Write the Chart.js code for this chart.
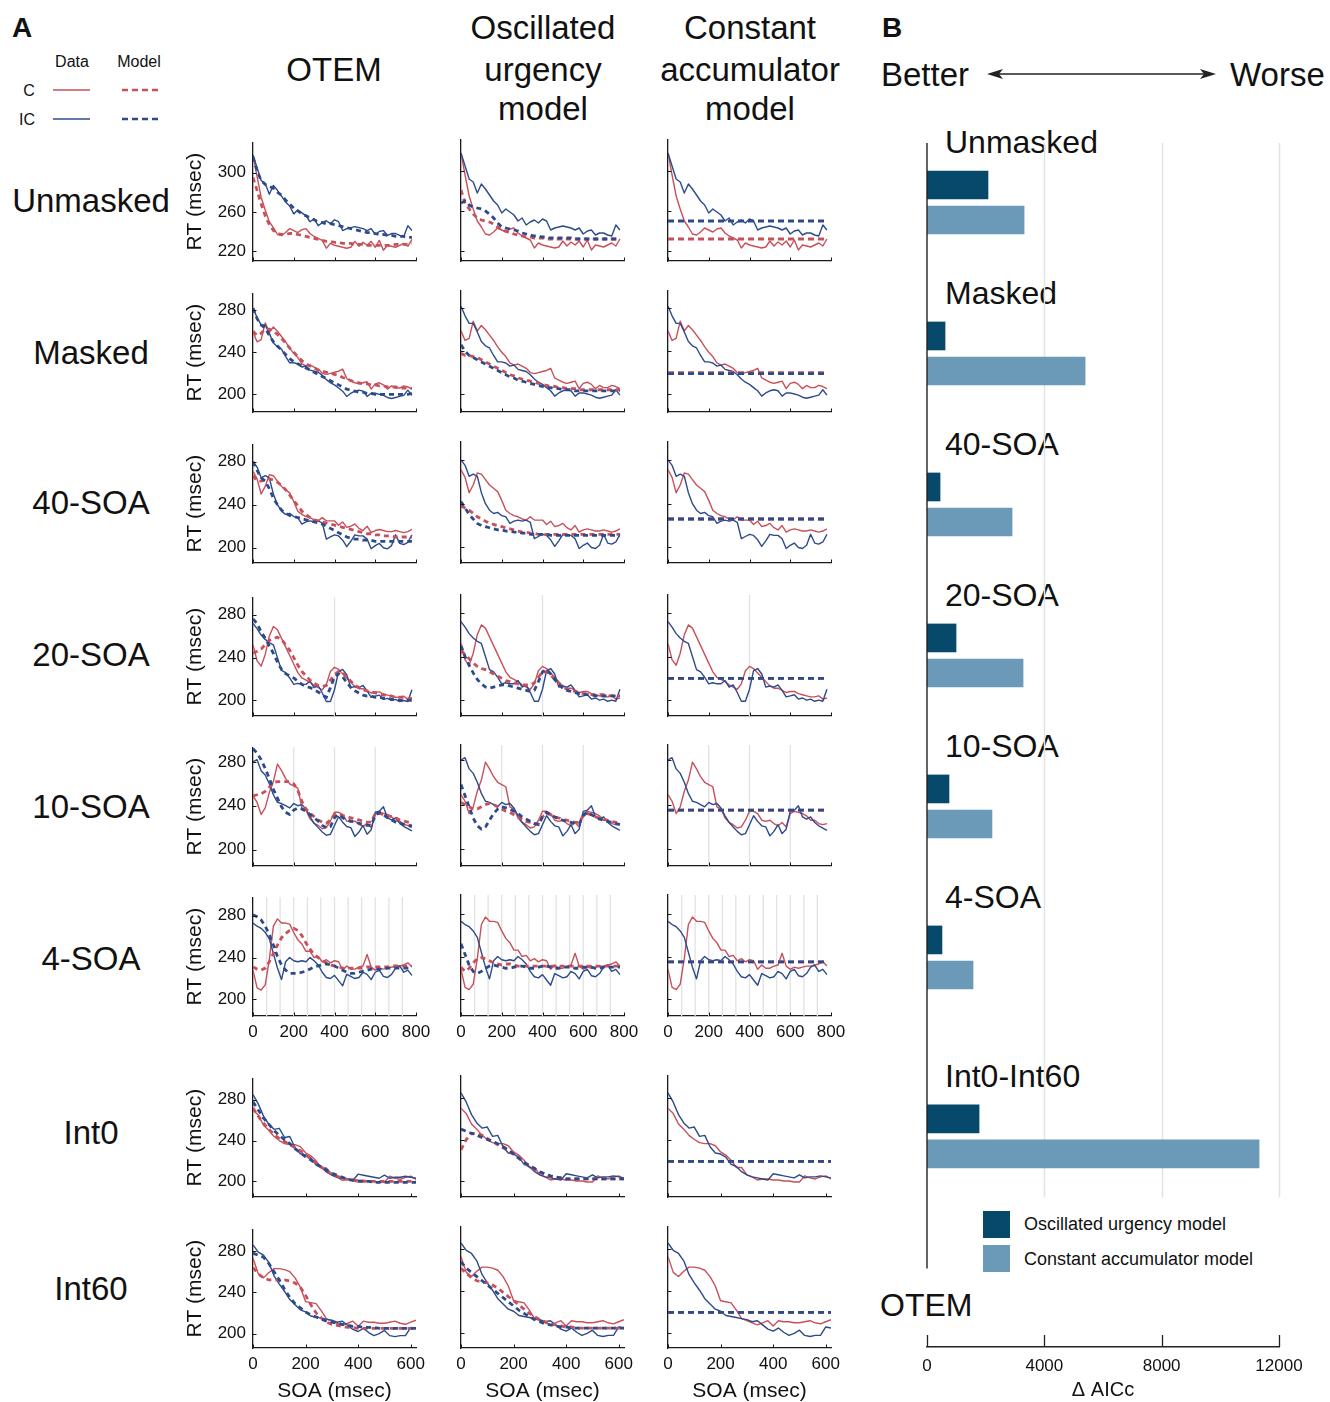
<!DOCTYPE html>
<html>
<head>
<meta charset="utf-8">
<title>RT by SOA and model comparison</title>
<script src="https://cdn.jsdelivr.net/npm/chart.js@4.4.1/dist/chart.umd.min.js"></script>
<style>
  html,body{margin:0;padding:0;background:#fff}
  body{position:relative;width:1330px;height:1402px;overflow:hidden;font-family:"Liberation Sans",Arial,Helvetica,sans-serif;color:#111}
  canvas{position:absolute}
  .c{position:absolute;white-space:nowrap;transform:translate(-50%,-50%);line-height:1}
  .l{position:absolute;white-space:nowrap;transform:translateY(-50%);line-height:1}
  svg{position:absolute;overflow:visible}
  .sw{position:absolute;width:27px;height:27px}
</style>
</head>
<body>
<div class="c" style="left:22px;top:28px;font-size:28px;font-weight:bold">A</div>
<div class="c" style="left:892px;top:28px;font-size:28px;font-weight:bold">B</div>

<!-- line key for panel A -->
<div class="c" style="left:72px;top:62px;font-size:16px">Data</div>
<div class="c" style="left:139px;top:62px;font-size:16px">Model</div>
<div class="c" style="left:29px;top:91px;font-size:16px">C</div>
<div class="c" style="left:27px;top:120px;font-size:16px">IC</div>
<svg style="left:0;top:0" width="170" height="140">
  <line x1="53" y1="90" x2="90" y2="90" stroke="#c8505b" stroke-width="1.4"/>
  <line x1="53" y1="119" x2="90" y2="119" stroke="#2d4b8b" stroke-width="1.4"/>
  <line x1="122" y1="90" x2="158" y2="90" stroke="#c8505b" stroke-width="2.5" stroke-dasharray="6 4"/>
  <line x1="122" y1="119" x2="158" y2="119" stroke="#2d4b8b" stroke-width="2.5" stroke-dasharray="6 4"/>
</svg>

<!-- column headers -->
<div class="c" style="left:334px;top:69px;font-size:33px">OTEM</div>
<div class="c" style="left:543px;top:27px;font-size:33px">Oscillated</div>
<div class="c" style="left:543px;top:69px;font-size:33px">urgency</div>
<div class="c" style="left:543px;top:108px;font-size:33px">model</div>
<div class="c" style="left:750px;top:27px;font-size:33px">Constant</div>
<div class="c" style="left:750px;top:69px;font-size:33px">accumulator</div>
<div class="c" style="left:750px;top:108px;font-size:33px">model</div>

<!-- row headers -->
<div id="rowLabels"></div>

<!-- panel B header -->
<div class="l" style="left:881px;top:74px;font-size:33px">Better</div>
<div class="l" style="left:1230px;top:74px;font-size:33px">Worse</div>
<svg style="left:0;top:0" width="1330" height="100">
  <line x1="996" y1="74" x2="1207" y2="74" stroke="#222" stroke-width="1.5"/>
  <polygon points="987,74 1003,69 999,74 1003,79" fill="#222"/>
  <polygon points="1216,74 1200,69 1204,74 1200,79" fill="#222"/>
</svg>
<div id="groupLabels"></div>
<div class="sw" style="left:983px;top:1211px;background:#06496b"></div>
<div class="sw" style="left:983px;top:1245px;background:#6b9ab9"></div>
<div class="l" style="left:1024px;top:1224px;font-size:18px">Oscillated urgency model</div>
<div class="l" style="left:1024px;top:1259px;font-size:18px">Constant accumulator model</div>
<div class="l" style="left:880px;top:1305px;font-size:32px">OTEM</div>

<script>
// ---------- data ----------
const conditions = ['Unmasked', 'Masked', '40-SOA', '20-SOA', '10-SOA', '4-SOA', 'Int0', 'Int60'];

const soaLong = [0,20,40,60,80,100,120,140,160,180,200,220,240,260,280,300,320,340,360,380,
                 400,420,440,460,480,500,520,540,560,580,600,620,640,660,680,700,720,740,760,780];
const soaShort = [0,20,40,60,80,100,120,140,160,180,200,220,240,260,280,300,
                  320,340,360,380,400,420,440,460,480,500,520,540,560,580,600,620];

const rtTicksUnmasked = [220, 260, 300];
const rtTicks = [200, 240, 280];
const soaTicksLong = [0, 200, 400, 600, 800];
const soaTicksShort = [0, 200, 400, 600];

// stimulus onset markers (msec)
const onsets20 = [400];
const onsets10 = [200, 400, 600];
const onsets4 = [67, 133, 200, 267, 333, 400, 467, 533, 600, 667, 733];

// Unmasked
const unmaskedC  = [318,296,275,262,250,244,237,236,239,243,241,239,242,243,238,235,233,231,223,228,226,225,224,223,224,230,225,229,226,230,224,231,221,226,225,224,226,228,225,232];
const unmaskedIC = [318,305,292,289,278,287,282,276,270,266,258,262,259,256,250,253,246,249,251,248,252,250,241,243,244,245,244,243,241,243,237,240,241,236,238,238,236,235,246,241];
const unmaskedOtemC  = [295,282,268,256,247,241,238,237,237,238,238,237,236,235,234,233,232,231,230,230,229,229,228,228,228,227,227,227,226,226,226,226,226,226,226,227,227,227,227,228];
const unmaskedOtemIC = [316,302,292,288,286,284,280,277,272,268,264,261,258,256,254,252,250,249,248,248,247,246,245,244,243,242,241,240,239,239,238,237,237,236,236,235,235,235,234,234];
const unmaskedOuC  = [281,268,262,257,253,251,250,249,247,244,241,240,238,237,236,235,234,234,233,233,233,232,232,232,232,232,232,232,232,232,232,232,232,232,232,232,232,232,232,232];
const unmaskedOuIC = [268,270,266,264,263,262,260,257,253,248,244,243,242,241,240,238,237,236,235,235,234,234,233,233,233,233,233,233,232,232,232,232,232,232,232,232,232,232,232,232];

// Masked
const maskedC  = [259,250,252,268,259,264,260,255,250,244,239,235,229,227,228,226,224,220,219,220,221,222,224,215,213,211,210,211,212,205,210,211,209,205,208,206,206,208,207,205];
const maskedIC = [282,273,266,266,258,249,245,243,236,230,230,229,226,227,223,222,221,218,214,211,209,206,203,198,201,203,204,203,198,201,201,200,199,197,196,197,198,199,204,199];
const maskedOtemC  = [260,256,258,262,262,260,257,253,249,244,240,236,232,229,227,225,223,222,221,220,219,218,216,215,213,212,211,210,210,209,209,208,208,207,207,207,206,206,206,206];
const maskedOtemIC = [282,272,266,263,256,250,246,242,238,234,231,229,227,225,223,221,219,217,215,213,211,209,207,205,204,203,202,202,201,201,200,200,200,200,200,200,200,200,200,201];
const maskedOuC  = [238,236,236,235,234,232,230,228,226,224,222,220,218,217,215,214,213,212,211,210,209,208,207,207,206,206,205,205,205,204,204,204,204,204,204,204,204,204,204,204];
const maskedOuIC = [246,240,236,234,232,230,228,226,224,222,220,218,216,215,213,212,211,210,209,208,207,206,206,205,205,204,204,204,203,203,203,203,203,203,203,203,203,203,203,203];

// 40-SOA
const soa40C  = [271,264,250,257,268,267,262,257,254,251,243,234,231,229,228,226,225,228,225,225,225,221,224,219,220,222,218,216,220,214,216,217,216,215,215,216,215,214,215,217];
const soa40IC = [280,275,265,267,265,250,240,234,231,232,229,228,222,224,225,224,225,223,208,210,212,211,207,201,206,212,211,211,208,199,202,204,200,199,202,212,204,203,205,212];
const soa40OtemC  = [267,262,262,263,264,263,261,258,254,249,244,239,234,231,228,226,225,224,223,222,221,220,219,218,217,216,215,214,213,213,212,212,211,211,211,210,210,210,210,210];
const soa40OtemIC = [280,272,265,262,255,246,240,235,232,230,229,228,227,226,225,224,223,222,220,218,216,214,212,210,209,208,208,207,207,207,206,206,206,206,206,206,206,206,206,206];
const soa40OuC  = [238,236,234,231,228,226,224,222,221,220,219,218,217,216,215,214,214,213,213,212,212,212,212,212,212,212,212,212,212,212,212,212,212,212,212,212,212,212,212,212];
const soa40OuIC = [242,236,230,226,222,220,219,218,217,216,216,215,215,214,214,213,213,212,212,212,212,212,211,211,211,211,211,211,211,211,211,211,211,211,211,211,211,211,211,211];

// 20-SOA
const soa20C  = [252,237,232,243,260,269,266,258,250,242,234,226,221,219,217,214,212,210,215,227,231,229,225,221,217,213,211,211,209,207,208,208,206,205,204,203,203,204,201,202];
const soa20IC = [272,267,261,257,254,252,240,228,226,221,215,216,215,215,218,212,214,207,199,199,210,227,229,224,212,213,212,214,209,203,204,205,201,202,200,201,199,200,199,210];
const soa20OtemC  = [244,246,248,252,256,258,259,257,252,247,240,233,227,223,219,216,214,213,214,219,224,227,226,222,218,214,212,210,209,208,207,206,205,205,204,203,203,203,202,202];
const soa20OtemIC = [276,272,264,258,251,244,236,229,225,223,221,218,215,213,212,210,208,205,203,212,222,225,222,217,212,209,207,205,204,204,203,203,202,202,201,201,200,200,200,200];
const soa20OuC  = [245,242,238,234,231,229,228,226,224,222,220,218,217,216,215,214,214,214,216,221,226,226,223,219,215,212,210,209,208,207,206,206,205,205,205,205,204,204,204,204];
const soa20OuIC = [250,240,232,225,219,215,212,211,212,213,214,214,213,212,211,210,209,208,209,217,226,228,224,219,214,211,209,208,207,206,205,205,205,204,204,204,204,204,204,204];

// 10-SOA
const soa10C  = [249,243,232,238,252,262,278,272,265,260,258,256,238,236,228,224,222,219,220,226,234,234,232,226,225,226,223,221,224,220,232,234,233,232,230,226,226,223,222,223];
const soa10IC = [280,282,272,268,260,250,243,242,240,238,242,240,241,237,230,224,220,216,213,214,222,230,225,221,220,212,216,222,214,218,234,235,239,229,227,229,224,221,219,217];
const soa10OtemC  = [249,250,251,253,257,261,262,262,262,262,260,254,244,237,233,230,227,225,224,227,232,232,231,230,229,228,227,226,225,225,233,233,232,231,230,229,227,226,225,224];
const soa10OtemIC = [292,288,282,274,265,255,247,239,234,232,236,238,237,235,232,229,226,222,220,221,229,232,229,227,226,225,224,223,222,222,231,234,232,229,227,225,224,223,222,221];
const soa10OuC  = [242,240,238,236,236,238,240,241,240,238,236,234,233,231,229,227,225,224,223,223,229,232,231,229,228,227,226,225,224,224,230,232,231,229,228,227,226,225,224,223];
const soa10OuIC = [258,248,238,228,221,218,220,226,232,236,238,237,236,234,232,229,227,225,223,222,229,233,231,229,227,226,225,224,223,223,230,233,231,229,227,226,225,224,223,222];

// 4-SOA
const soa4C  = [228,211,209,214,238,270,277,273,273,272,264,257,253,246,246,240,241,236,238,235,237,236,228,232,229,229,231,232,243,231,228,230,229,230,231,231,232,233,235,231];
const soa4IC = [273,270,268,264,258,244,230,219,236,240,237,236,237,236,240,237,233,226,221,220,223,218,213,224,222,220,221,226,224,219,226,228,222,221,224,230,232,226,228,223];
const soa4OtemC  = [231,229,228,230,236,244,252,259,263,266,268,266,261,254,248,243,240,237,235,233,232,231,230,230,230,230,230,230,231,231,231,231,231,231,232,232,232,232,232,232];
const soa4OtemIC = [281,279,276,270,262,252,241,233,228,225,225,225,226,227,229,231,232,233,234,233,232,230,228,226,225,225,226,227,228,229,229,229,229,230,230,230,230,230,230,230];
const soa4OuC  = [230,226,229,234,238,239,238,236,234,233,232,233,233,232,231,231,231,231,231,231,231,231,231,231,231,231,231,231,231,231,231,231,231,231,231,231,231,231,231,231];
const soa4OuIC = [252,242,232,226,224,226,229,231,232,231,230,229,229,230,231,231,230,229,229,230,231,231,230,229,229,230,230,230,229,229,230,230,230,229,229,230,230,230,230,230];

// Int0
const int0C  = [270,265,255,250,244,240,237,236,236,234,228,225,220,213,213,206,204,201,202,202,201,201,200,200,199,199,205,203,202,204,205,202];
const int0IC = [285,276,264,256,251,252,243,244,233,227,226,223,216,214,209,206,204,203,202,201,207,206,205,204,203,206,203,204,204,205,204,203];
const int0OtemC  = [272,264,257,251,246,242,239,236,233,230,226,222,218,214,210,207,205,203,202,201,200,200,200,200,200,200,200,200,200,200,200,200];
const int0OtemIC = [278,270,262,256,250,245,241,237,232,228,224,221,217,214,211,208,206,204,202,201,200,200,200,199,199,199,199,199,199,199,199,199];
const int0OuC  = [230,240,246,246,244,241,238,235,232,229,226,222,218,214,211,208,206,204,203,203,202,202,202,202,202,202,202,202,202,202,202,202];
const int0OuIC = [250,248,246,244,242,240,238,236,233,230,226,222,218,215,212,209,207,205,204,203,202,202,202,202,202,202,202,202,202,202,202,202];

// Int60
const int60C  = [273,258,254,259,263,263,262,260,254,245,231,230,229,222,214,212,210,208,210,212,207,212,211,211,210,210,211,212,210,209,211,213];
const int60IC = [286,279,276,269,256,248,241,233,228,223,221,217,216,215,214,213,211,212,208,204,202,205,201,198,200,203,198,197,198,198,206,205];
const int60OtemC  = [264,258,254,252,252,252,252,251,249,245,237,228,220,215,211,209,208,207,206,206,205,205,205,205,205,205,205,205,205,205,205,205];
const int60OtemIC = [278,276,274,268,260,252,243,235,229,225,221,218,216,214,212,211,210,209,208,207,207,206,206,206,205,205,205,205,205,205,205,205];
const int60OuC  = [262,257,253,250,249,248,246,243,239,235,231,227,223,219,216,213,211,209,208,207,206,206,205,205,205,205,205,205,205,205,205,205];
const int60OuIC = [268,262,258,254,250,246,242,238,234,230,226,222,219,216,213,211,209,208,207,206,206,205,205,205,205,205,205,205,205,205,205,205];

// constant accumulator fits (one RT per condition)
const constAccC  = [232, 220, 226, 220, 235, 235, 219, 220];
const constAccIC = [250, 219, 226, 220, 235, 235, 219, 220];

// panel B: model comparison
const aiccGroups = ['Unmasked', 'Masked', '40-SOA', '20-SOA', '10-SOA', '4-SOA', 'Int0-Int60'];
const aiccOscUrgency = [2080, 615, 445, 990, 750, 510, 1775];
const aiccConstAcc   = [3310, 5390, 2900, 3275, 2215, 1570, 11320];
const aiccTicks = [0, 4000, 8000, 12000];

// ---------- condition table ----------
const rows = [
  {t: soaLong,  c: unmaskedC, ic: unmaskedIC, otem: [unmaskedOtemC, unmaskedOtemIC], ou: [unmaskedOuC, unmaskedOuIC], yTicks: rtTicksUnmasked, xTicks: soaTicksLong, onsets: []},
  {t: soaLong,  c: maskedC,   ic: maskedIC,   otem: [maskedOtemC, maskedOtemIC],     ou: [maskedOuC, maskedOuIC],     yTicks: rtTicks, xTicks: soaTicksLong, onsets: []},
  {t: soaLong,  c: soa40C,    ic: soa40IC,    otem: [soa40OtemC, soa40OtemIC],       ou: [soa40OuC, soa40OuIC],       yTicks: rtTicks, xTicks: soaTicksLong, onsets: []},
  {t: soaLong,  c: soa20C,    ic: soa20IC,    otem: [soa20OtemC, soa20OtemIC],       ou: [soa20OuC, soa20OuIC],       yTicks: rtTicks, xTicks: soaTicksLong, onsets: onsets20},
  {t: soaLong,  c: soa10C,    ic: soa10IC,    otem: [soa10OtemC, soa10OtemIC],       ou: [soa10OuC, soa10OuIC],       yTicks: rtTicks, xTicks: soaTicksLong, onsets: onsets10},
  {t: soaLong,  c: soa4C,     ic: soa4IC,     otem: [soa4OtemC, soa4OtemIC],         ou: [soa4OuC, soa4OuIC],         yTicks: rtTicks, xTicks: soaTicksLong, onsets: onsets4},
  {t: soaShort, c: int0C,     ic: int0IC,     otem: [int0OtemC, int0OtemIC],         ou: [int0OuC, int0OuIC],         yTicks: rtTicks, xTicks: soaTicksShort, onsets: []},
  {t: soaShort, c: int60C,    ic: int60IC,    otem: [int60OtemC, int60OtemIC],       ou: [int60OuC, int60OuIC],       yTicks: rtTicks, xTicks: soaTicksShort, onsets: []}
];

// ---------- layout ----------
const RED = '#c8505b', BLUE = '#2d4b8b', DARK = '#06496b', LIGHT = '#6b9ab9', INK = '#1a1a1a';
const colLeft = [253, 461, 668];
const rowTop = [140, 291, 442, 595, 745, 895, 1076, 1227];
const rowLabelY = [200, 352, 502, 654, 806, 958, 1132, 1288];
const rowRange = [[210, 331], [183.2, 296.2], [185.8, 296.3], [185.5, 296.4], [185, 293.4], [184.2, 297.7], [184.6, 301.2], [186, 301.2]];
const xMaxLong = 800, xMaxShort = 620;
const PLOT_W = 163, PLOT_H = 121, PAD_L = 75, PAD_T = 15, PAD_R = 30, PAD_B = 60;
const showTickLabelRows = [5, 7];
const titleRow = 7;

Chart.defaults.font.family = '"Liberation Sans", Arial, Helvetica, sans-serif';
Chart.defaults.color = '#111';
Chart.defaults.animation = false;

// row headers
const rowLabelHost = document.getElementById('rowLabels');
conditions.forEach((name, r) => {
  const d = document.createElement('div');
  d.className = 'c';
  d.style.cssText = `left:91px;top:${rowLabelY[r]}px;font-size:33px`;
  d.textContent = name;
  rowLabelHost.appendChild(d);
});

// onset lines behind the traces, inward tick marks on the axes
function panelMarks(onsets) {
  return {
    id: 'panelMarks',
    beforeDatasetsDraw(chart) {
      const {ctx, chartArea: a, scales: {x}} = chart;
      ctx.save();
      ctx.strokeStyle = '#e2e2e2';
      ctx.lineWidth = 1.3;
      onsets.forEach(t => {
        const px = x.getPixelForValue(t);
        ctx.beginPath(); ctx.moveTo(px, a.top); ctx.lineTo(px, a.bottom); ctx.stroke();
      });
      ctx.restore();
    },
    afterDraw(chart) {
      const {ctx, chartArea: a, scales: {x, y}} = chart;
      ctx.save();
      ctx.strokeStyle = INK;
      ctx.lineWidth = 1;
      x.ticks.forEach(t => {
        const px = Math.round(x.getPixelForValue(t.value)) + 0.5;
        ctx.beginPath(); ctx.moveTo(px, a.bottom); ctx.lineTo(px, a.bottom - 3.5); ctx.stroke();
      });
      y.ticks.forEach(t => {
        const py = Math.round(y.getPixelForValue(t.value)) + 0.5;
        ctx.beginPath(); ctx.moveTo(a.left, py); ctx.lineTo(a.left + 3.5, py); ctx.stroke();
      });
      ctx.restore();
    }
  };
}

function dataLine(values, color, order) {
  return {data: values, borderColor: color, borderWidth: 1.4, pointRadius: 0, tension: 0,
          borderJoinStyle: 'round', fill: false, order};
}
function modelLine(values, color, order, dash) {
  return {data: values, borderColor: color, borderWidth: 2.8, borderDash: dash, pointRadius: 0,
          tension: 0, fill: false, order};
}

rows.forEach((row, r) => {
  const xMax = row.t === soaShort ? xMaxShort : xMaxLong;
  const tEnd = row.t[row.t.length - 1];
  colLeft.forEach((left, c) => {
    const cv = document.createElement('canvas');
    const W = PAD_L + PLOT_W + PAD_R, H = PAD_T + PLOT_H + PAD_B;
    cv.width = W; cv.height = H;
    cv.style.left = (left - PAD_L) + 'px';
    cv.style.top = (rowTop[r] - PAD_T) + 'px';
    cv.style.width = W + 'px'; cv.style.height = H + 'px';
    document.body.appendChild(cv);

    let modelC, modelIC, dash;
    if (c === 0) { modelC = row.otem[0]; modelIC = row.otem[1]; dash = [5, 4]; }
    else if (c === 1) { modelC = row.ou[0]; modelIC = row.ou[1]; dash = [5, 4]; }
    else {
      modelC = [{x: 0, y: constAccC[r]}, {x: tEnd, y: constAccC[r]}];
      modelIC = [{x: 0, y: constAccIC[r]}, {x: tEnd, y: constAccIC[r]}];
      dash = [6, 4];
    }

    new Chart(cv, {
      type: 'line',
      data: {
        labels: row.t,
        datasets: [
          modelLine(modelIC, BLUE, 0, dash),
          modelLine(modelC, RED, 1, dash),
          dataLine(row.ic, BLUE, 2),
          dataLine(row.c, RED, 3)
        ]
      },
      options: {
        responsive: false,
        animation: false,
        events: [],
        layout: {padding: {top: PAD_T, right: PAD_R, left: 0, bottom: 0}, autoPadding: false},
        plugins: {legend: {display: false}, tooltip: {enabled: false}},
        scales: {
          x: {
            type: 'linear', position: 'bottom', min: 0, max: xMax,
            afterBuildTicks: s => { s.ticks = row.xTicks.map(v => ({value: v})); },
            afterFit: s => { s.height = PAD_B; },
            grid: {display: false, drawTicks: false},
            border: {display: true, color: INK, width: 1.3},
            ticks: {display: showTickLabelRows.includes(r), padding: 6, maxRotation: 0, minRotation: 0,
                    autoSkip: false, font: {size: 17}, color: '#111', callback: v => String(v)},
            title: {display: r === titleRow, text: 'SOA (msec)', font: {size: 21}, color: '#111', padding: 4}
          },
          y: {
            type: 'linear', position: 'left', min: rowRange[r][0], max: rowRange[r][1],
            afterBuildTicks: s => { s.ticks = row.yTicks.map(v => ({value: v})); },
            afterFit: s => { s.width = PAD_L; },
            grid: {display: false, drawTicks: false},
            border: {display: true, color: INK, width: 1.3},
            ticks: {display: c === 0, padding: 7, font: {size: 17}, color: '#111', callback: v => String(v)},
            title: {display: c === 0, text: 'RT (msec)', font: {size: 21}, color: '#111', padding: 5}
          }
        }
      },
      plugins: [panelMarks(row.onsets)]
    });
  });
});

// ---------- panel B ----------
const B_LEFT = 870, B_TOP = 100, B_W = 460, B_H = 1302;
const groupStep = 1, extraGapBeforeLast = 0.185, barOffset = 0.116;
const groupPos = i => i * groupStep + (i === aiccGroups.length - 1 ? extraGapBeforeLast : 0);
const yPosMin = -0.394, yPosMax = 7.58, gridEndPos = 6.59, axisEndPos = 7.06, labelLift = 0.4;

const bcv = document.createElement('canvas');
bcv.width = B_W; bcv.height = B_H;
bcv.style.left = B_LEFT + 'px'; bcv.style.top = B_TOP + 'px';
bcv.style.width = B_W + 'px'; bcv.style.height = B_H + 'px';
document.body.appendChild(bcv);

const aiccMarks = {
  id: 'aiccMarks',
  beforeDatasetsDraw(chart) {
    const {ctx, chartArea: a, scales: {x, y}} = chart;
    const yEnd = y.getPixelForValue(gridEndPos);
    ctx.save();
    ctx.strokeStyle = '#e3e3e3';
    ctx.lineWidth = 1.5;
    x.ticks.forEach(t => {
      if (t.value <= 0) return;
      const px = Math.round(x.getPixelForValue(t.value)) + 0.5;
      ctx.beginPath(); ctx.moveTo(px, a.top); ctx.lineTo(px, yEnd); ctx.stroke();
    });
    ctx.restore();
  },
  afterDraw(chart) {
    const {ctx, chartArea: a, scales: {x, y}} = chart;
    ctx.save();
    ctx.strokeStyle = '#222';
    ctx.lineWidth = 1.4;
    ctx.beginPath();
    ctx.moveTo(a.left, a.top);
    ctx.lineTo(a.left, y.getPixelForValue(axisEndPos));
    ctx.stroke();
    ctx.lineWidth = 1.3;
    x.ticks.forEach(t => {
      const px = Math.round(x.getPixelForValue(t.value)) + 0.5;
      ctx.beginPath(); ctx.moveTo(px, a.bottom); ctx.lineTo(px, a.bottom - 12); ctx.stroke();
    });
    ctx.restore();
  }
};

const aiccChart = new Chart(bcv, {
  type: 'bar',
  data: {
    datasets: [
      {label: 'Oscillated urgency model', backgroundColor: DARK, borderWidth: 0,
       data: aiccGroups.map((g, i) => ({x: aiccOscUrgency[i], y: groupPos(i) - barOffset}))},
      {label: 'Constant accumulator model', backgroundColor: LIGHT, borderWidth: 0,
       data: aiccGroups.map((g, i) => ({x: aiccConstAcc[i], y: groupPos(i) + barOffset}))}
    ]
  },
  options: {
    indexAxis: 'y',
    responsive: false,
    animation: false,
    events: [],
    grouped: false,
    barPercentage: 1,
    categoryPercentage: 1,
    maxBarThickness: 28,
    layout: {padding: {top: 43, left: 57, right: 51, bottom: 0}, autoPadding: false},
    plugins: {legend: {display: false}, tooltip: {enabled: false}},
    scales: {
      x: {
        type: 'linear', position: 'bottom', min: 0, max: 12000,
        afterBuildTicks: s => { s.ticks = aiccTicks.map(v => ({value: v})); },
        afterFit: s => { s.height = 55; },
        grid: {display: false, drawTicks: false},
        border: {display: true, color: '#222', width: 1.4},
        ticks: {padding: 9, maxRotation: 0, autoSkip: false, font: {size: 17}, color: '#111', callback: v => String(v)},
        title: {display: true, text: '\u0394 AICc', font: {size: 20}, color: '#111', padding: 0}
      },
      y: {type: 'linear', min: yPosMin, max: yPosMax, reverse: true, display: false,
          offset: false, grid: {offset: false}, ticks: {stepSize: 1}}
    }
  },
  plugins: [aiccMarks]
});

// group names above each pair of bars
const yS = aiccChart.scales.y;
const groupHost = document.getElementById('groupLabels');
aiccGroups.forEach((g, i) => {
  const d = document.createElement('div');
  d.className = 'l';
  d.style.cssText = `left:945px;top:${B_TOP + yS.getPixelForValue(groupPos(i) - labelLift)}px;font-size:32px`;
  d.textContent = g;
  groupHost.appendChild(d);
});
</script>
</body>
</html>
